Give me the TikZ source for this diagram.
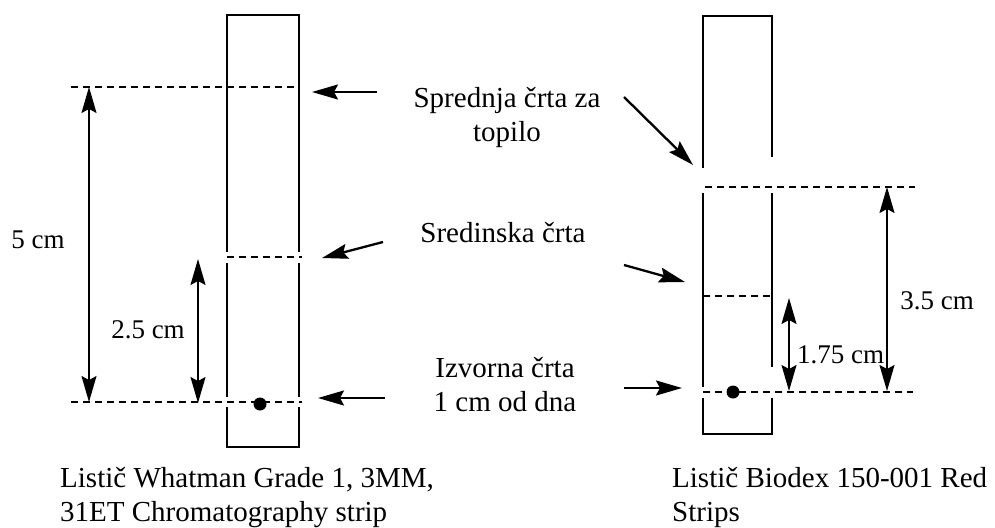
\documentclass[tikz,border=0pt]{standalone}
\usepackage{fontspec}
\setmainfont{Liberation Serif}
\usetikzlibrary{arrows.meta}
\begin{document}
\begin{tikzpicture}[x=1pt,y=-1pt,
  strip/.style={line width=1.3pt},
  dashln/.style={line width=1.3pt,dash pattern=on 7pt off 5pt},
  dimarrow/.style={line width=1.5pt,{Stealth[length=26pt,width=15pt,inset=4pt]}-{Stealth[length=26pt,width=15pt,inset=4pt]}},
  pointer/.style={line width=2.3pt,-{Stealth[length=26pt,width=15pt,inset=4pt]}},
  lbl/.style={font=\fontsize{29}{34}\selectfont,anchor=base,inner sep=0pt},
  dimlbl/.style={font=\fontsize{27}{32}\selectfont,anchor=base,inner sep=0pt},
  captxt/.style={font=\fontsize{29}{34}\selectfont,anchor=base west,inner sep=0pt}]
\useasboundingbox (0,0) rectangle (995,527);
% ---------- left strip ----------
\draw[strip] (227,252) -- (227,15) -- (299,15) -- (299,252);
\draw[strip] (227,263) -- (227,397);
\draw[strip] (299,263) -- (299,397);
\draw[strip] (227,407) -- (227,447) -- (299,447) -- (299,407);
\draw[dashln] (71,87) -- (299,87);
\draw[dashln] (227,257) -- (302,257);
\draw[dashln] (71,402) -- (302,402);
\fill (260,404) circle (6.5);
\coordinate (a5t) at (89,87);
\coordinate (a5b) at (89,402);
\draw[dimarrow] (a5t) -- (a5b);
\coordinate (a25t) at (198,259);
\coordinate (a25b) at (198,403);
\draw[dimarrow] (a25t) -- (a25b);
\node[dimlbl] (l5) at (38,248) {5 cm};
\node[dimlbl] (l25) at (148,338) {2.5 cm};
% ---------- right strip ----------
\draw[strip] (703,168) -- (703,16) -- (772,16) -- (772,157);
\draw[strip] (703,193) -- (703,387);
\draw[strip] (772,193) -- (772,367);
\draw[strip] (703,398) -- (703,434) -- (772,434) -- (772,398);
\draw[dashln] (705,187) -- (915,187);
\draw[dashln] (703,296) -- (772,296);
\draw[dashln] (703,392) -- (913,392);
\fill (733,392) circle (6.5);
\coordinate (a35t) at (887,187);
\coordinate (a35b) at (887,391);
\draw[dimarrow] (a35t) -- (a35b);
\coordinate (a175t) at (789,298);
\coordinate (a175b) at (789,391);
\draw[dimarrow] (a175t) -- (a175b);
\node[dimlbl] (l35) at (937,309) {3.5 cm};
\node[dimlbl,anchor=base west] (l175) at (797,363) {1.75 cm};
% ---------- middle labels ----------
\node[lbl] (sp1) at (507,107) {Sprednja črta za};
\node[lbl] (sp2) at (507,141) {topilo};
\node[lbl] (sr) at (503,242) {Sredinska črta};
\node[lbl] (iz1) at (505,377) {Izvorna črta};
\node[lbl] (iz2) at (505,411) {1 cm od dna};
% ---------- pointers ----------
\coordinate (pl1s) at (377,92);  \coordinate (pl1e) at (312,92);
\coordinate (pl2s) at (383,242); \coordinate (pl2e) at (322,258);
\coordinate (pl3s) at (385,398); \coordinate (pl3e) at (318,398);
\coordinate (pr1s) at (624,97);  \coordinate (pr1e) at (693,165);
\coordinate (pr2s) at (624,265); \coordinate (pr2e) at (685,282);
\coordinate (pr3s) at (624,388); \coordinate (pr3e) at (682,388);
\draw[pointer] (pl1s) -- (pl1e);
\draw[pointer] (pl2s) -- (pl2e);
\draw[pointer] (pl3s) -- (pl3e);
\draw[pointer] (pr1s) -- (pr1e);
\draw[pointer] (pr2s) -- (pr2e);
\draw[pointer] (pr3s) -- (pr3e);
% ---------- captions ----------
\node[captxt] (c1a) at (60,487) {Listič Whatman Grade 1, 3MM,};
\node[captxt] (c1b) at (60,521) {31ET Chromatography strip};
\node[captxt] (c2a) at (672,487) {Listič Biodex 150-001 Red};
\node[captxt] (c2b) at (672,521) {Strips};
\end{tikzpicture}
\end{document}
